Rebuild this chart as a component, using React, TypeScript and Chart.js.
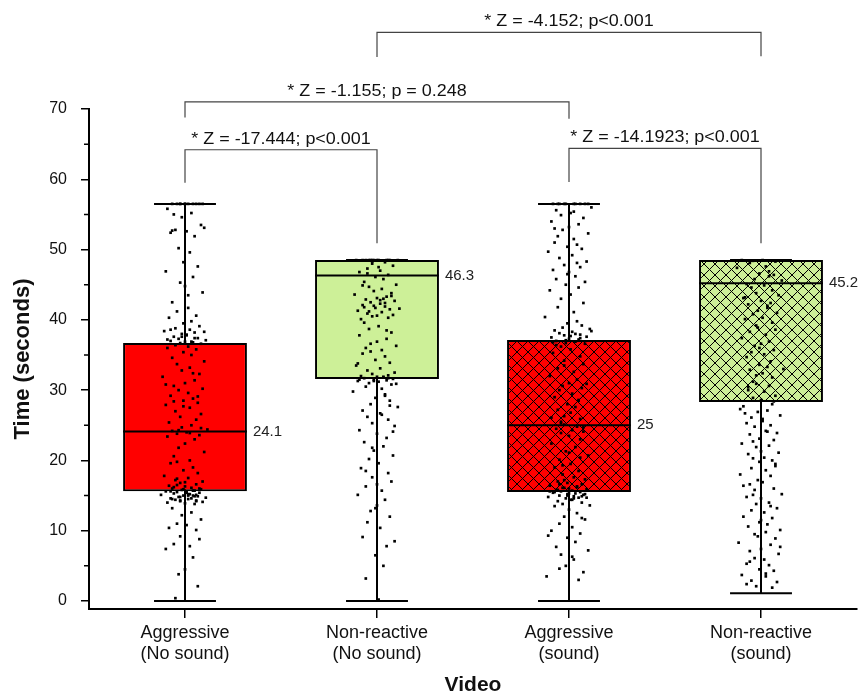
import React, { useEffect, useRef } from 'react';
import { Chart, registerables } from 'chart.js';

Chart.register(...registerables);

const CATEGORIES = [
  ['Aggressive', '(No sound)'],
  ['Non-reactive', '(No sound)'],
  ['Aggressive', '(sound)'],
  ['Non-reactive', '(sound)'],
];
const Q1 = [15.6, 31.6, 15.5, 28.3];
const Q3 = [36.7, 48.5, 37.15, 48.5];
const MEDIAN = [24.1, 46.3, 25, 45.2];
const WHISKER_LOW = [0, 0, 0, 1.1];
const WHISKER_HIGH = [56.5, 48.5, 56.5, 48.5];
const MEDIAN_LABELS = ['24.1', '46.3', '25', '45.2'];
const Y_TICKS = [0, 10, 20, 30, 40, 50, 60, 70];
const Y_MINOR = [5, 15, 25, 35, 45, 55, 65];

const COMP_FROM = [0, 0, 2, 1];
const COMP_TO = [1, 2, 3, 3];
const COMP_TOP = [64.2, 71.0, 64.4, 80.9];
const COMP_LEFT_END = [59.5, 68.8, 59.6, 77.4];
const COMP_RIGHT_END = [50.9, 68.6, 50.9, 77.5];
const COMP_TEXT = [
  '* Z = -17.444; p<0.001',
  '* Z = -1.155; p = 0.248',
  '* Z = -14.1923; p<0.001',
  '* Z = -4.152; p<0.001',
];

// individual observations (seconds)
const G1_VALUES = [
  56.5, 56.5, 56.5, 56.5, 56.5, 56.5, 56.5, 56.5,
  55.8, 55.2, 54.6, 53.1, 52.8, 52.6, 52.4, 51.9, 50.2, 49.6, 53.5, 55.0,
  48.2, 47.6, 46.9, 46.1, 45.3, 44.8, 43.9, 42.5, 41.7, 41.2, 40.6, 40.3,
  39.8, 39.5, 39.1, 38.8, 38.6, 38.4, 38.2, 38.0, 37.8, 37.6, 37.4, 37.3, 37.1, 37.0, 36.9, 36.8, 36.7, 36.6, 36.4, 36.2, 36.0, 35.8,
  35.4, 35.0, 34.6, 34.1, 33.7, 33.2, 32.8, 32.3, 31.9, 31.4, 31.0, 30.6, 30.2, 30.0,
  29.6, 29.2, 28.8, 28.5, 28.2, 27.9, 27.5, 27.0, 26.6, 26.2, 25.8, 25.4, 25.0, 24.7, 24.4, 24.2, 24.0, 23.8, 23.6, 23.4,
  23.0, 22.4, 21.8, 21.2, 20.6, 20.0, 19.6, 19.0, 18.6, 18.2, 17.8, 17.5, 17.2, 17.0,
  16.8, 16.6, 16.4, 16.3, 16.1, 16.0, 15.9, 15.8, 15.7, 15.6, 15.5, 15.5, 15.4, 15.3, 15.2, 15.1, 15.0, 15.0, 14.9, 14.8, 14.7, 14.6, 14.5, 14.4, 14.3, 14.2, 14.1, 14.0, 13.9, 13.8,
  13.2, 12.6, 12.2, 11.6, 11.0, 10.8, 10.4, 10.1,
  9.2, 8.8, 8.1, 7.8, 7.4, 6.2,
  4.5, 3.8, 2.1, 0.4,
  15.2, 15.6, 14.9, 15.9, 14.6, 16.2, 15.4, 14.3, 15.1, 16.5, 14.8, 15.7, 14.5, 15.0, 16.0, 17.4, 16.9, 14.2,
  37.2, 36.9, 37.6, 38.3, 36.5, 37.9, 38.6, 37.4,
  24.3, 23.9, 24.6, 28.4, 27.7, 29.1, 30.8, 32.4, 56.5, 56.5, 56.5, 52.7, 43.5, 19.8,
];
const G2_VALUES = [
  48.5, 48.5, 48.5, 48.5, 48.5, 48.5, 48.5, 48.5, 48.5, 48.5,
  48.2, 48.0, 47.7, 47.3, 47.0, 46.8, 46.4, 46.1,
  45.8, 45.4, 45.0, 44.7, 44.4, 44.1,
  43.8, 43.6, 43.3, 43.1, 42.9, 42.7, 42.5, 42.3, 42.1, 41.9, 41.7, 41.5, 41.3, 41.1, 40.9, 40.7, 40.5, 40.3, 40.1, 43.0, 42.0, 41.6,
  39.6, 39.1, 38.7, 38.2, 37.8, 37.3, 36.9, 36.6, 36.3, 36.0,
  35.7, 35.2, 34.8, 34.3, 33.9, 33.5, 33.1, 32.8, 32.5, 32.3, 32.1, 32.0,
  31.9, 31.8, 31.7, 31.6, 31.5, 31.4, 31.3, 31.2, 31.0, 30.8, 30.5, 30.2,
  29.8, 29.4, 28.9, 28.5, 28.0, 27.6, 27.1, 26.7, 26.2, 25.8, 25.3, 24.9, 24.3, 23.8, 23.2, 22.6, 22.0, 21.4, 20.7, 20.2,
  19.6, 18.9, 18.2, 17.6, 17.0, 16.3, 15.7, 15.1, 14.4, 13.6, 12.8, 12.0, 11.2, 10.4,
  9.1, 7.8, 6.5, 5.0, 3.2,
  0.2,
  48.5, 48.5, 48.5, 48.3, 42.4, 41.8, 42.8, 43.4, 41.2, 40.6, 31.7, 31.5, 31.9, 31.3, 30.9,
  46.6, 47.5, 44.9, 38.5, 35.5, 26.5, 24.1, 18.5, 13.2, 27.8, 33.8, 29.2, 21.8, 16.6, 8.5,
];
const G3_VALUES = [
  56.5, 56.5, 56.5, 56.5, 56.5, 56.5, 56.5, 56.5,
  56.0, 55.6, 55.2, 54.9, 54.5, 54.0, 53.6, 53.2, 52.8, 52.3, 51.9, 51.5, 51.0, 50.7, 50.4, 50.1,
  49.7, 49.2, 48.8, 48.3, 47.8, 47.5, 47.1, 46.8, 46.2, 45.8, 45.4, 45.0, 44.6, 44.2,
  43.6, 43.0, 42.4, 41.8, 41.1, 40.4,
  39.8, 39.5, 39.2, 38.9, 38.7, 38.5, 38.3, 38.1, 37.9, 37.8, 37.6, 37.5, 37.3, 37.2, 37.0, 36.9, 36.7, 36.6,
  36.2, 35.8, 35.3, 34.8, 34.2, 33.7, 33.1, 32.6, 32.0, 31.5, 31.0, 30.6, 30.3, 30.0,
  29.5, 29.0, 28.5, 28.0, 27.6, 27.2, 26.8, 26.3, 25.9, 25.5, 25.1, 24.8, 24.5, 24.3, 24.1, 23.9,
  23.5, 23.0, 22.4, 21.9, 21.3, 20.7, 20.1, 19.5, 19.0, 18.5, 18.0, 17.6, 17.3, 17.0,
  16.8, 16.6, 16.4, 16.2, 16.1, 16.0, 15.9, 15.8, 15.7, 15.6, 15.5, 15.4, 15.3, 15.2, 15.1, 15.0, 14.9, 14.8, 14.7, 14.6, 14.4, 14.2, 14.0, 13.8, 13.6, 13.5,
  13.0, 12.5, 12.0, 11.6, 11.0, 10.5, 10.0, 9.6, 9.0, 8.4,
  7.7, 7.2, 6.6, 5.9, 5.0, 4.1, 3.5, 3.0,
  15.3, 15.8, 14.7, 16.1, 14.4, 15.5, 16.3, 15.0, 14.9, 15.6, 14.6, 16.6, 15.2, 17.2,
  37.4, 36.8, 38.0, 37.1, 38.4, 36.4, 37.7,
  25.3, 24.7, 26.1, 28.6, 21.1, 19.3, 56.5, 56.5, 55.4, 53.0, 48.1, 46.5, 11.8, 9.3, 6.3, 4.6, 30.9, 33.5, 20.4,
];
const G4_VALUES = [
  48.5, 48.5, 48.4, 48.3,
  48.1, 47.6, 47.4, 46.9, 46.6, 46.4, 45.8, 45.6, 45.1, 44.9, 44.6, 44.2,
  43.8, 43.5, 43.1, 42.7, 42.4, 42.2, 41.7, 41.3, 41.0, 40.8, 40.3, 40.1,
  39.6, 39.2, 38.6, 38.3, 37.9, 37.4, 36.9, 36.6, 36.3, 35.7, 35.4, 35.1,
  34.7, 34.1, 33.6, 33.3, 32.9, 32.4, 32.1, 31.8, 31.2, 30.9, 30.6, 30.0, 29.8, 29.2, 28.9, 28.6,
  28.0, 27.7, 27.1, 26.9, 26.4, 26.1, 25.9, 25.3, 25.0, 24.8, 24.2, 23.9, 23.7, 23.1, 22.9, 22.4, 22.1, 21.9, 21.3, 21.1, 20.9, 20.4, 20.3, 20.0, 26.7, 24.1,
  19.8, 19.2, 18.9, 18.6, 18.0, 17.8, 17.2, 16.9, 16.6, 16.0, 15.8, 15.2, 14.8, 14.6, 14.0, 13.8, 13.2, 12.9, 12.6, 12.0, 11.8, 11.2, 10.9, 10.6, 10.1, 15.1,
  9.8, 9.2, 8.9, 8.3, 8.0, 7.4, 7.1, 6.7, 6.1, 5.9, 5.3, 5.1, 4.5, 4.3, 3.7, 3.5, 2.9, 2.7, 2.1, 1.9,
  43.2, 42.0, 38.9, 33.0, 30.4, 25.6, 22.7, 19.5, 16.4, 13.5, 11.5, 9.5, 7.7, 5.6, 3.9, 2.4, 46.2, 36.0, 28.4, 27.3,
];
const GROUP_VALUES = [G1_VALUES, G2_VALUES, G3_VALUES, G4_VALUES];

// horizontal jitter, in hundredths of a category width
const JITTER = [
  -3, 5, -8, 2, 9, -5, 0, 7, -11, 4, -2, 12, -6, 1, -9, 6, -4, 3, 10, -7,
  -1, 8, -12, 5, -3, 0, 11, -8, 2, -5, 7, -10, 4, -1, 9, -6, 3, -13, 6, -2,
  1, -7, 8, -4, 13, -9, 0, 5, -3, 10, -6, 2, -11, 7, -1, 4, -8, 12, -5, 3,
  -2, 9, -14, 6, 0, -7, 11, -4, 2, -9, 5, -1, 8, -12, 3, -6, 10, -3, 7, -10,
  4, -2, 14, -8, 1, -5, 9, -11, 6, 0, -4, 12, -7, 3, -9, 5, -1, 8, -13, 2,
  -6, 11, -3, 7, -10, 0, 4, -8, 10, -2, 6, -12, 1, -5, 9, -7, 3, -15, 5, -1,
  8, -4, 13, -9, 2, -6, 7, -3, 11, -11, 0, 6, -8, 4, -2, 10, -5, 1, -10, 7,
  -3, 9, -7, 3, -12, 5, 0, -4, 8, -6, 2, -9, 6, -1, 4, -7, 1, -3, 7, -5,
];

const RED = '#FF0000';
const GREEN = '#CDF098';
const FONT = '"Liberation Sans", Arial, Helvetica, sans-serif';

export default function App() {
  const ref = useRef<HTMLCanvasElement>(null);

  useEffect(() => {
    document.body.style.margin = '0';
    const canvas = ref.current!;
    const ctx = canvas.getContext('2d')!;

    const makePattern = (bg: string) => {
      const s = 11;
      const c = document.createElement('canvas');
      c.width = s;
      c.height = s;
      const g = c.getContext('2d')!;
      g.fillStyle = bg;
      g.fillRect(0, 0, s, s);
      g.strokeStyle = '#000';
      g.lineWidth = 1;
      g.beginPath();
      g.moveTo(-1, -1);
      g.lineTo(s + 1, s + 1);
      g.moveTo(s + 1, -1);
      g.lineTo(-1, s + 1);
      g.stroke();
      return ctx.createPattern(c, 'repeat')!;
    };

    const boxColors = [RED, GREEN, makePattern(RED), makePattern(GREEN)];

    const scatterData = GROUP_VALUES.flatMap((vals, g) =>
      vals.map((y, i) => ({ x: g + JITTER[(i + g * 37) % JITTER.length] / 120, y }))
    );

    const boxPlugin = {
      id: 'boxExtras',
      beforeDatasetsDraw(chart: any) {
        const { ctx: c, scales } = chart;
        const x = scales.x;
        const y = scales.y;
        const meta = chart.getDatasetMeta(0);
        c.save();
        c.strokeStyle = '#000';
        c.lineWidth = 2;
        for (let i = 0; i < CATEGORIES.length; i++) {
          const bar = meta.data[i];
          const cx = x.getPixelForValue(i);
          const hw = bar.width / 4;
          const yl = y.getPixelForValue(WHISKER_LOW[i]);
          const yh = y.getPixelForValue(WHISKER_HIGH[i]);
          c.beginPath();
          c.moveTo(cx, yl);
          c.lineTo(cx, yh);
          c.moveTo(cx - hw, yl);
          c.lineTo(cx + hw, yl);
          c.moveTo(cx - hw, yh);
          c.lineTo(cx + hw, yh);
          c.stroke();
        }
        c.restore();
      },
      afterDatasetDraw(chart: any, args: any) {
        if (args.index !== 0) return;
        const { ctx: c, scales } = chart;
        const y = scales.y;
        const meta = chart.getDatasetMeta(0);
        c.save();
        c.strokeStyle = '#000';
        c.lineWidth = 2;
        c.fillStyle = '#222';
        c.font = `15px ${FONT}`;
        c.textAlign = 'left';
        c.textBaseline = 'middle';
        for (let i = 0; i < CATEGORIES.length; i++) {
          const bar = meta.data[i];
          const ym = y.getPixelForValue(MEDIAN[i]);
          c.beginPath();
          c.moveTo(bar.x - bar.width / 2, ym);
          c.lineTo(bar.x + bar.width / 2, ym);
          c.stroke();
          c.fillText(MEDIAN_LABELS[i], bar.x + bar.width / 2 + 6, ym);
        }
        c.restore();
      },
      afterDraw(chart: any) {
        const { ctx: c, scales, chartArea } = chart;
        const x = scales.x;
        const y = scales.y;
        c.save();
        c.strokeStyle = '#000';
        c.lineWidth = 1.5;
        c.beginPath();
        for (const v of Y_MINOR) {
          const py = y.getPixelForValue(v);
          c.moveTo(chartArea.left - 5, py);
          c.lineTo(chartArea.left, py);
        }
        c.stroke();

        c.strokeStyle = '#444';
        c.lineWidth = 1.2;
        c.fillStyle = '#111';
        c.font = `16px ${FONT}`;
        c.textAlign = 'center';
        c.textBaseline = 'alphabetic';
        for (let k = 0; k < COMP_TEXT.length; k++) {
          const x1 = x.getPixelForValue(COMP_FROM[k]);
          const x2 = x.getPixelForValue(COMP_TO[k]);
          const yt = y.getPixelForValue(COMP_TOP[k]);
          c.beginPath();
          c.moveTo(x1, y.getPixelForValue(COMP_LEFT_END[k]));
          c.lineTo(x1, yt);
          c.lineTo(x2, yt);
          c.lineTo(x2, y.getPixelForValue(COMP_RIGHT_END[k]));
          c.stroke();
          c.save();
          c.translate((x1 + x2) / 2, yt - 6);
          c.scale(1.12, 1);
          c.fillText(COMP_TEXT[k], 0, 0);
          c.restore();
        }
        c.restore();
      },
    };

    const chart = new Chart(canvas, {
      type: 'bar',
      data: {
        datasets: [
          {
            type: 'bar',
            data: Q1.map((q, i) => ({ x: i, y: [q, Q3[i]] })) as any,
            backgroundColor: boxColors as any,
            borderColor: '#000',
            borderWidth: 2,
            borderSkipped: false,
            barPercentage: 0.645,
            categoryPercentage: 1,
            order: 2,
          } as any,
          {
            type: 'scatter',
            data: scatterData,
            pointRadius: 1.9,
            pointBackgroundColor: '#000',
            pointBorderWidth: 0,
            pointStyle: 'rect',
            order: 1,
          } as any,
        ],
      },
      options: {
        animation: false,
        responsive: false,
        events: [],
        layout: { padding: { top: 109, right: 2, left: 0, bottom: 0 } },
        plugins: { legend: { display: false }, tooltip: { enabled: false } },
        scales: {
          x: {
            type: 'linear',
            min: -0.5,
            max: 3.5,
            offset: false,
            afterBuildTicks: (axis: any) => {
              axis.ticks = CATEGORIES.map((_, i) => ({ value: i }));
            },
            afterFit: (scale: any) => {
              scale.height = 89;
            },
            grid: {
              offset: false,
              drawOnChartArea: false,
              tickLength: 9,
              color: '#000',
              lineWidth: 1.5,
            },
            border: { display: true, color: '#000', width: 2 },
            ticks: {
              callback: (v: any) => CATEGORIES[v] ?? '',
              color: '#111',
              font: { family: FONT, size: 18, lineHeight: 1.2 },
              padding: 4,
              maxRotation: 0,
              autoSkip: false,
            },
            title: {
              display: true,
              text: 'Video',
              color: '#111',
              font: { family: FONT, size: 21, weight: 'bold' },
              padding: { top: 3, bottom: 0 },
            },
          } as any,
          y: {
            type: 'linear',
            min: -1.14,
            max: 70,
            afterBuildTicks: (axis: any) => {
              axis.ticks = Y_TICKS.map((v) => ({ value: v }));
            },
            afterFit: (scale: any) => {
              scale.width = 89;
            },
            grid: {
              drawOnChartArea: false,
              tickLength: 8,
              color: '#000',
              lineWidth: 1.5,
            },
            border: { display: true, color: '#000', width: 2 },
            ticks: {
              color: '#111',
              font: { family: FONT, size: 16 },
              padding: 14,
            },
            title: {
              display: true,
              text: 'Time (seconds)',
              color: '#111',
              font: { family: FONT, size: 22, weight: 'bold' },
              padding: { top: 10, bottom: 0 },
            },
          } as any,
        },
      },
      plugins: [boxPlugin],
    });

    return () => chart.destroy();
  }, []);

  return (
    <div style={{ width: 861, height: 698 }}>
      <canvas ref={ref} width={861} height={698} style={{ display: 'block' }} />
    </div>
  );
}
